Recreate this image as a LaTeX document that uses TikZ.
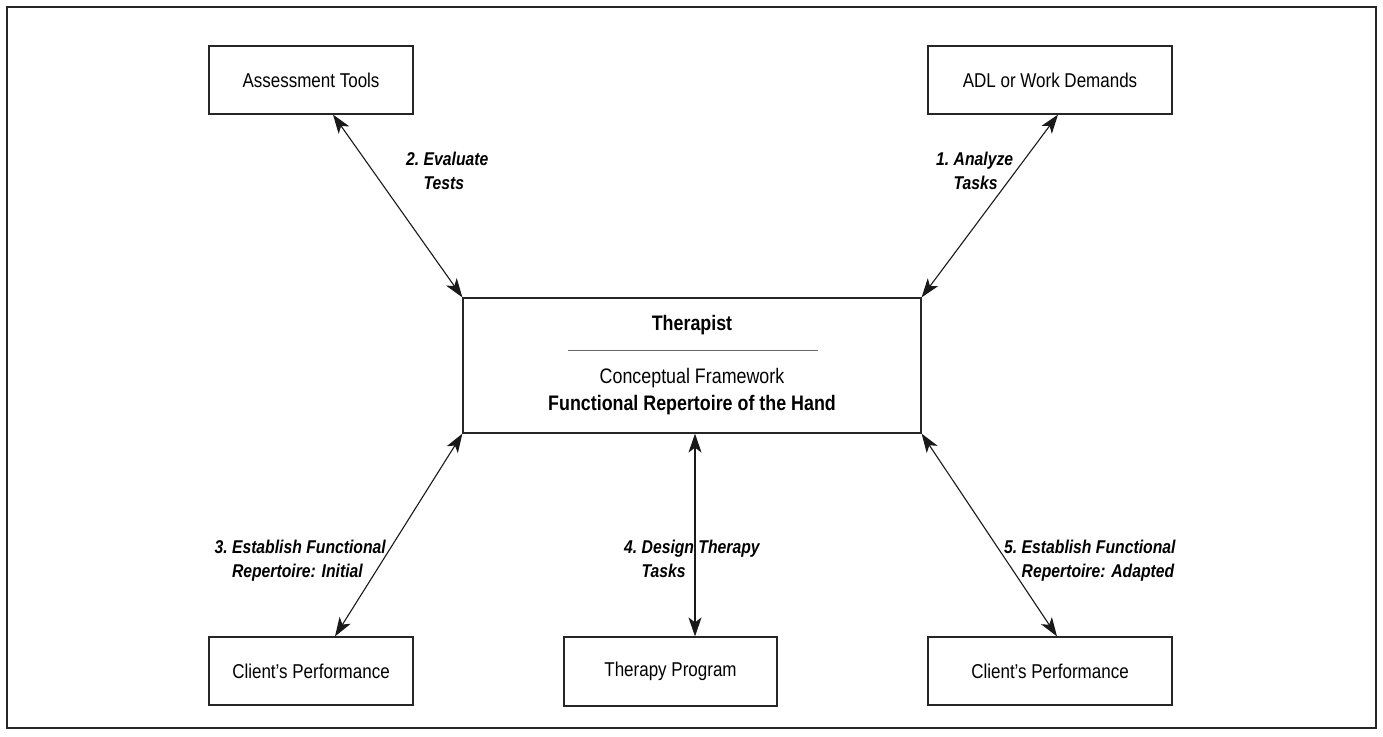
\documentclass[tikz,border=0pt]{standalone}
\usepackage{fontspec}
\setmainfont{Liberation Sans}[FakeStretch=0.85]
\usetikzlibrary{arrows.meta}
\begin{document}
\begin{tikzpicture}[x=1pt,y=-1pt,
  box/.style={draw=black!85,line width=1.2pt,inner sep=0pt,font=\fontsize{20}{24}\selectfont},
  conn/.style={line width=1.1pt,black!90,{Stealth[length=19pt,width=13pt,inset=5pt]}-{Stealth[length=19pt,width=13pt,inset=5pt]}},
  lab/.style={inner sep=0pt,align=left,font=\fontsize{18.5}{24}\selectfont\bfseries\itshape},
  ttext/.style={inner sep=0pt,font=\fontsize{21}{24}\selectfont}]
\path[use as bounding box] (0,0) rectangle (1383,736);
\draw[line width=2pt,black!85] (7,7) rectangle (1376,728);
\node[box,minimum width=204pt,minimum height=68pt] (assess) at (311,80) {Assessment Tools};
\node[box,minimum width=244pt,minimum height=68pt] (adl) at (1050,80) {ADL or Work Demands};
\node[box,minimum width=458pt,minimum height=135pt] (ther) at (692,365.5) {};
\node[box,minimum width=204pt,minimum height=68pt] (cl) at (311,671) {Client’s Performance};
\node[box,minimum width=213pt,minimum height=69pt] (tp) at (670.5,671.5) {Therapy Program};
\node[box,minimum width=244pt,minimum height=68pt] (cr) at (1050,671) {Client’s Performance};
\node[ttext,font=\fontsize{21}{24}\selectfont\bfseries] (tt) at (692,325) {Therapist};
\draw[line width=0.6pt,black!60] (568,350) -- (818,350);
\node[ttext] (cf) at (692,378) {Conceptual Framework};
\node[ttext,font=\fontsize{21}{24}\selectfont\bfseries] (fr) at (692,405) {Functional Repertoire of the Hand};
\draw[conn] ([xshift=22pt]assess.south) -- (ther.north west);
\draw[conn] ([xshift=8pt]adl.south) -- (ther.north east);
\draw[conn] (ther.south west) -- ([xshift=24pt]cl.north);
\draw[conn] ([xshift=3pt]ther.south) -- ([xshift=3pt]ther.south |- tp.north);
\draw[conn] (ther.south east) -- ([xshift=7pt]cr.north);
\node[lab,anchor=north west] (l2) at (406,152) {2.~Evaluate\\\hphantom{2.~}Tests};
\node[lab,anchor=north west] (l1) at (936,152) {1.~Analyze\\\hphantom{1.~}Tasks};
\node[lab,anchor=north east] (l3) at (386,540) {3.~Establish Functional\\\hphantom{3.~}Repertoire: Initial};
\node[lab,anchor=north west] (l4) at (624,540) {4.~Design Therapy\\\hphantom{4.~}Tasks};
\node[lab,anchor=north west] (l5) at (1004,540) {5.~Establish Functional\\\hphantom{5.~}Repertoire: Adapted};
\end{tikzpicture}
\end{document}
